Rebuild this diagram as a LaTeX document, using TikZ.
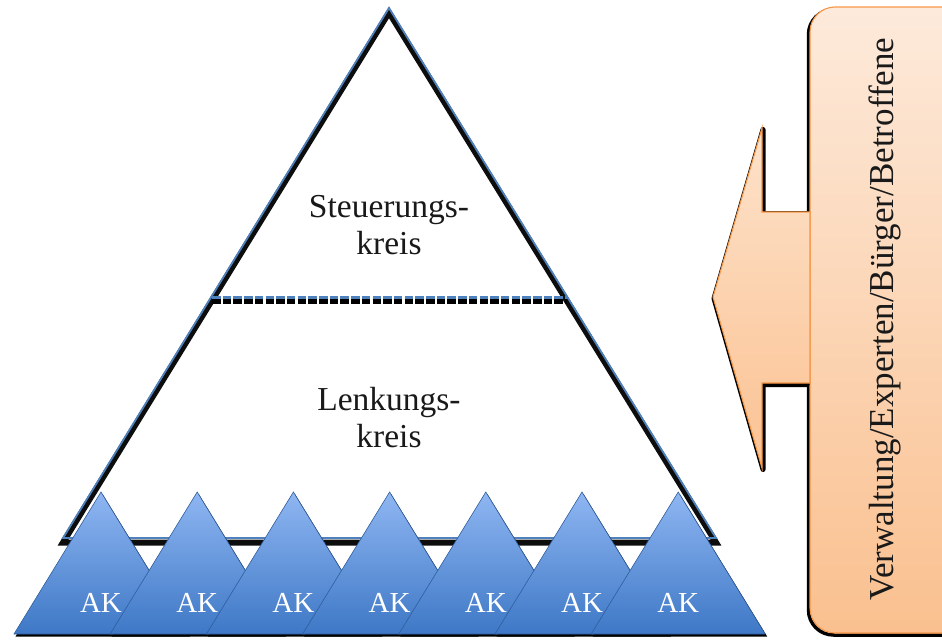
\documentclass[tikz,border=0pt]{standalone}
\usepackage{fontspec}
\setmainfont{Liberation Serif}
\definecolor{bluLine}{HTML}{4F81BD}
\definecolor{akTop}{HTML}{8FB6F2}
\definecolor{akBot}{HTML}{3E78C6}
\definecolor{akEdge}{HTML}{2E5E9E}
\definecolor{orLine}{HTML}{F79646}
\definecolor{boxTop}{HTML}{FDEADB}
\definecolor{boxBot}{HTML}{FAC08F}
\definecolor{arrTop}{HTML}{FDE2CA}
\definecolor{arrBot}{HTML}{FBC293}
\begin{document}
\begin{tikzpicture}[x=1pt,y=-1pt,
  shadowline/.style={black!95,line width=6pt,line join=miter},
  blueline/.style={bluLine,line width=1.8pt,line join=miter},
  aktri/.style={top color=akTop,bottom color=akBot,draw=akEdge,line width=0.6pt,line join=miter},
  akshadow/.style={fill=black},
  aklabel/.style={text=white,font=\fontsize{29}{34}\selectfont,anchor=base,inner sep=0pt},
  biglabel/.style={font=\fontsize{33.5}{37}\selectfont,anchor=base,inner sep=0pt,text=black!90},
  orshape/.style={draw=orLine,line width=1.1pt,line join=miter},
]
\path[use as bounding box] (0,0) rectangle (942,640);
\clip (0,0) rectangle (942,640);

% big pyramid: shadow then blue outline
\draw[shadowline] (389,12.5) -- (63,542.5) -- (716,542.5) -- cycle;
\draw[blueline] (389,8) -- (63,538) -- (716,538) -- cycle;

% dashed divider
\draw[black,line width=5pt,dash pattern=on 8.5pt off 2.2pt] (212,301.5) -- (567,301.5);
\draw[bluLine,line width=2.2pt,dash pattern=on 8.5pt off 2.2pt] (212,297.5) -- (567,297.5);

% labels inside pyramid
\node[biglabel] (st1) at (389,217) {Steuerungs-};
\node[biglabel] (st2) at (389,254) {kreis};
\node[biglabel] (lk1) at (389,410) {Lenkungs-};
\node[biglabel] (lk2) at (389,447) {kreis};

% AK triangles
\foreach \i in {0,...,6} {
  \pgfmathsetmacro\cx{101+96.2*\i}
  \path[akshadow] (\cx+1.5,494) -- (\cx-85.5,636.5) -- (\cx+89,636.5) -- cycle;
  \path[aktri] (\cx,492) -- (\cx-87,634) -- (\cx+87,634) -- cycle;
  \node[aklabel] (ak\i) at (\cx,612) {AK};
}

% orange box
\draw[black,line width=3.5pt,rounded corners=25pt] (808.5,9.5) rectangle (990,635);
\path[top color=boxTop,bottom color=boxBot,orshape,rounded corners=25pt] (810,7) rectangle (990,633);
\node[rotate=90,font=\fontsize{35}{40}\selectfont,text=black!90] (grp) at (885,319) {Verwaltung/Experten/Bürger/Betroffene};

% block arrow
\fill[black,draw=black,line width=5pt,line join=round] (763,129.5) -- (763,213.5) -- (807,213.5) -- (807,384.5) -- (763,384.5) -- (763,469.5) -- (714,298.5) -- cycle;
\path[top color=arrTop,bottom color=arrBot,orshape] (762,128) -- (762,212) -- (810,212) -- (810,383) -- (762,383) -- (762,468) -- (713,297) -- cycle;
\end{tikzpicture}
\end{document}
